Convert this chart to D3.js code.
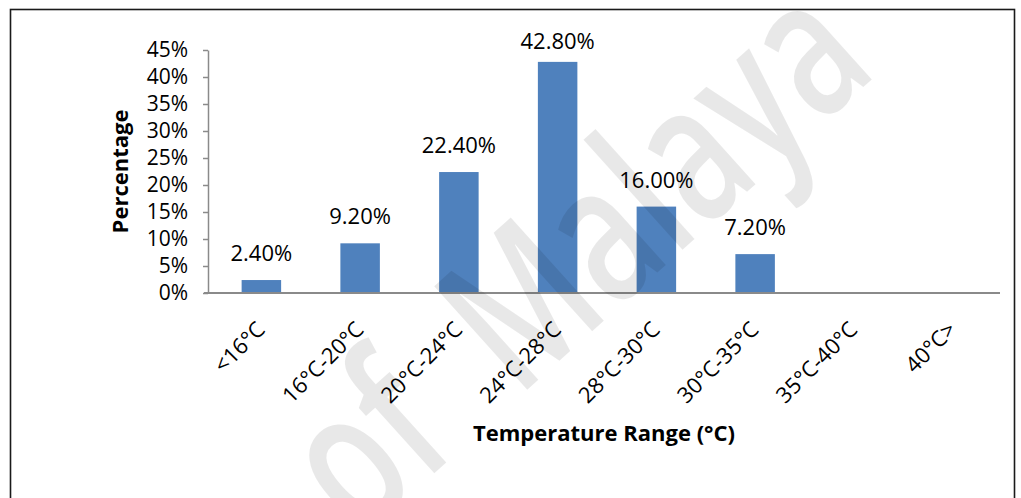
<!DOCTYPE html>
<html>
<head>
<meta charset="utf-8">
<script src="https://cdn.jsdelivr.net/npm/d3@7"></script>
<style>
  html, body { margin: 0; padding: 0; background: #fff; }
  svg { display: block; }
  text { font-family: "Open Sans", "Noto Sans", sans-serif; fill: #000; }
</style>
</head>
<body>
<svg id="chart" width="1021" height="498"></svg>
<script>
// Share of readings per temperature band
const categories = ["<16°C", "16°C-20°C", "20°C-24°C", "24°C-28°C", "28°C-30°C", "30°C-35°C", "35°C-40°C", "40°C>"];
const percentages = [2.4, 9.2, 22.4, 42.8, 16.0, 7.2, 0, 0];
const yTicks = [0, 5, 10, 15, 20, 25, 30, 35, 40, 45];
const xTitle = "Temperature Range (°C)";
const yTitle = "Percentage";
const watermark = "University of Malaya";

const svg = d3.select("#chart");
const W = 1021, H = 498;

svg.append("rect").attr("width", W).attr("height", H).attr("fill", "#fff");

// outer frame
svg.append("rect")
  .attr("x", 10.5).attr("y", 9.5)
  .attr("width", 1004).attr("height", 520)
  .attr("fill", "none").attr("stroke", "#1a1a1a").attr("stroke-width", 1.6);

const plotLeft = 208, plotRight = 1000, plotTop = 50, plotBottom = 293;

const x = d3.scaleBand()
  .domain(categories)
  .range([212, 1002])
  .paddingInner(0.6)
  .paddingOuter(0.3);

const y = d3.scaleLinear().domain([0, 45]).range([plotBottom, plotTop]);

// y axis
const yAxis = d3.axisLeft(y)
  .tickValues(yTicks)
  .tickFormat(d => d + "%")
  .tickSize(5)
  .tickSizeOuter(0)
  .tickPadding(15);

const gy = svg.append("g")
  .attr("transform", `translate(${plotLeft},0)`)
  .call(yAxis);
gy.select(".domain").attr("stroke", "#8a8a8a").attr("stroke-width", 1.5);
gy.selectAll(".tick line").attr("stroke", "#8a8a8a").attr("stroke-width", 1.5);
gy.selectAll(".tick text")
  .attr("font-size", 21)
  .attr("font-family", "'Open Sans', sans-serif")
  .attr("fill", "#000");

const rows = categories.map((c, i) => ({ c, v: percentages[i] })).filter(d => d.v > 0);

// bars
svg.append("g").selectAll("rect")
  .data(rows)
  .join("rect")
  .attr("x", d => x(d.c))
  .attr("width", x.bandwidth())
  .attr("y", d => y(d.v))
  .attr("height", d => y(0) - y(d.v))
  .attr("fill", "#4f81bd");

// value labels above the bars
svg.append("g").selectAll("text")
  .data(rows)
  .join("text")
  .attr("x", d => x(d.c) + x.bandwidth() / 2)
  .attr("y", d => Math.max(y(d.v) - 19, 49))
  .attr("text-anchor", "middle")
  .attr("font-size", 22)
  .text(d => d.v.toFixed(2) + "%");

// x axis baseline
svg.append("line")
  .attr("x1", plotLeft - 4).attr("x2", plotRight)
  .attr("y1", y(0)).attr("y2", y(0))
  .attr("stroke", "#8a8a8a").attr("stroke-width", 2);

// rotated category labels
svg.append("g").selectAll("text")
  .data(categories)
  .join("text")
  .attr("text-anchor", "end")
  .attr("font-size", 22)
  .attr("transform", d => `translate(${x(d) + x.bandwidth() / 2 + 5},331) rotate(-45)`)
  .text(d => d);

// axis titles
svg.append("text")
  .attr("x", 604).attr("y", 441)
  .attr("text-anchor", "middle")
  .attr("font-size", 22).attr("font-weight", "bold")
  .text(xTitle);

svg.append("text")
  .attr("transform", `translate(128,${(plotTop + plotBottom) / 2}) rotate(-90)`)
  .attr("text-anchor", "middle")
  .attr("font-size", 22).attr("font-weight", "bold")
  .text(yTitle);

// faint diagonal watermark over everything
svg.append("text")
  .attr("transform", "translate(880,72) rotate(-42) scale(0.72,1)")
  .attr("text-anchor", "end")
  .attr("font-size", 195)
  .attr("font-weight", 600)
  .attr("word-spacing", 55)
  .attr("fill-opacity", 0.09)
  .style("fill", "#000")
  .text(watermark);
</script>
</body>
</html>
